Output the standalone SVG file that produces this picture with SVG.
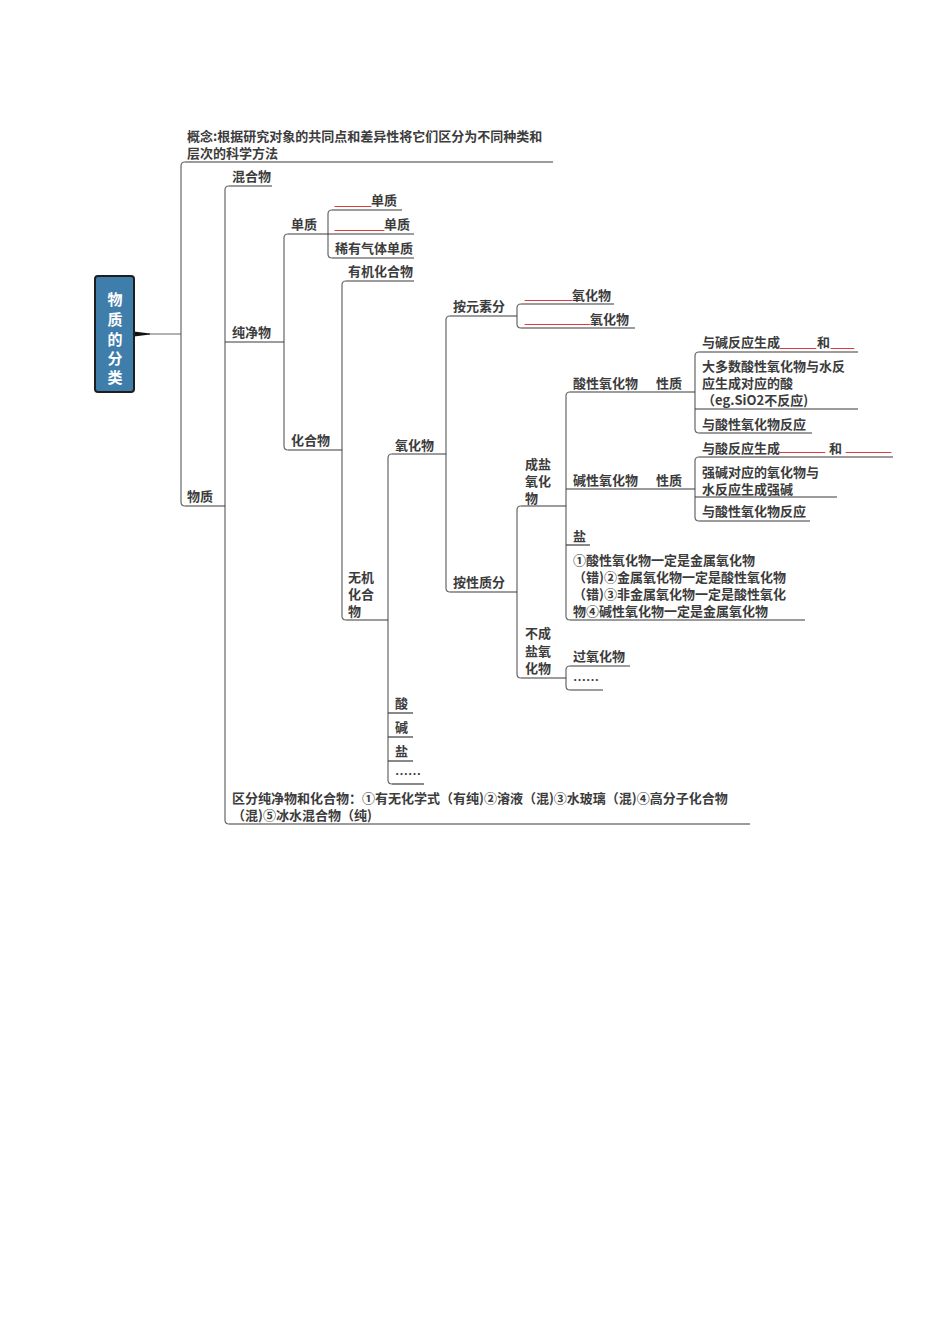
<svg xmlns="http://www.w3.org/2000/svg" width="950" height="1344" viewBox="0 0 950 1344">
<style>
.t{font-family:"Noto Sans CJK SC","Noto Sans",sans-serif;font-size:13px;font-weight:bold;fill:#3c3c3c}
.w{font-family:"Noto Sans CJK SC","Noto Sans",sans-serif;font-size:15px;font-weight:bold;fill:#ffffff;text-anchor:middle}
.b{font-family:"Liberation Sans",sans-serif;font-size:13px;font-weight:bold;fill:#e0393e;stroke:#e0393e;stroke-width:0.3}
.u{stroke:#3a3a3a;stroke-width:1.2;fill:none}
.c{stroke:#666666;stroke-width:1.2;fill:none}
</style>
<rect width="950" height="1344" fill="#ffffff"/>
<g id="connectors">
<path class="c" d="M185 162 Q181 162 181 166 L181 502 Q181 506 185 506"/>
<path class="c" d="M148 334 L181 334"/>
<path d="M134 331.5 L150 333.6 L150 334.6 L134 336.5 Z" fill="#111"/>
<path class="c" d="M229 186 Q225 186 225 190 L225 820 Q225 824 229 824"/>
<path class="c" d="M288 234 Q284 234 284 238 L284 446 Q284 450 288 450"/>
<path class="c" d="M332 210 Q328 210 328 214 L328 254 Q328 258 332 258"/>
<path class="c" d="M346 281 Q342 281 342 285 L342 616 Q342 620 346 620"/>
<path class="c" d="M392 454 Q388 454 388 458 L388 780 Q388 784 392 784"/>
<path class="c" d="M450 316 Q446 316 446 320 L446 588 Q446 592 450 592"/>
<path class="c" d="M521 304 Q517 304 517 308 L517 324 Q517 328 521 328"/>
<path class="c" d="M521 506 Q517 506 517 510 L517 674 Q517 678 521 678"/>
<path class="c" d="M570 392 Q566 392 566 396 L566 616 Q566 620 570 620"/>
<path class="c" d="M570 666 Q566 666 566 670 L566 686 Q566 690 570 690"/>
<path class="c" d="M699 352 Q695 352 695 356 L695 429 Q695 433 699 433"/>
<path class="c" d="M699 457 Q695 457 695 461 L695 517 Q695 521 699 521"/>
</g>
<g id="root">
<rect x="95" y="276" width="39" height="116" rx="3" fill="#3f7dab" stroke="#1e1e1e" stroke-width="2"/>
<text class="w" x="115" y="305"><tspan x="115" y="305">物</tspan><tspan x="115" y="325">质</tspan><tspan x="115" y="345">的</tspan><tspan x="115" y="364">分</tspan><tspan x="115" y="383">类</tspan></text>
</g>
<g id="n-gainian">
<text class="t" x="187" y="141">概念:根据研究对象的共同点和差异性将它们区分为不同种类和</text>
<text class="t" x="187" y="158">层次的科学方法</text>
<line class="u" x1="185" y1="162" x2="553" y2="162"/>
</g>
<g id="n-wuzhi">
<text class="t" x="187" y="501">物质</text>
<line class="u" x1="185" y1="506" x2="225" y2="506"/>
</g>
<g id="n-hunhewu">
<text class="t" x="232" y="181">混合物</text>
<line class="u" x1="229" y1="186" x2="272" y2="186"/>
</g>
<g id="n-chunjingwu">
<text class="t" x="232" y="337">纯净物</text>
<line class="u" x1="225" y1="342" x2="284" y2="342"/>
</g>
<g id="n-qufen">
<text class="t" x="232" y="803">区分纯净物和化合物：①有无化学式（有纯)②溶液（混)③水玻璃（混)④高分子化合物</text>
<text class="t" x="232" y="820">（混)⑤冰水混合物（纯)</text>
<line class="u" x1="229" y1="824" x2="750" y2="824"/>
</g>
<g id="n-danzhi">
<text class="t" x="291" y="229">单质</text>
<line class="u" x1="288" y1="234" x2="328" y2="234"/>
</g>
<g id="n-danzhi1">
<text class="b" x="335" y="205" textLength="36" lengthAdjust="spacingAndGlyphs">_____</text>
<text class="t" x="371" y="205">单质</text>
<line class="u" x1="332" y1="210" x2="402" y2="210"/>
</g>
<g id="n-danzhi2">
<text class="b" x="335" y="229" textLength="49" lengthAdjust="spacingAndGlyphs">_______</text>
<text class="t" x="384" y="229">单质</text>
<line class="u" x1="328" y1="234" x2="414" y2="234"/>
</g>
<g id="n-xiyou">
<text class="t" x="335" y="253">稀有气体单质</text>
<line class="u" x1="332" y1="258" x2="414" y2="258"/>
</g>
<g id="n-huahewu">
<text class="t" x="291" y="445">化合物</text>
<line class="u" x1="288" y1="450" x2="342" y2="450"/>
</g>
<g id="n-youji">
<text class="t" x="348" y="276">有机化合物</text>
<line class="u" x1="346" y1="281" x2="414" y2="281"/>
</g>
<g id="n-wuji">
<text class="t" x="348" y="582">无机</text>
<text class="t" x="348" y="599">化合</text>
<text class="t" x="348" y="616">物</text>
<line class="u" x1="346" y1="620" x2="388" y2="620"/>
</g>
<g id="n-yanghuawu">
<text class="t" x="395" y="450">氧化物</text>
<line class="u" x1="392" y1="454" x2="446" y2="454"/>
</g>
<g id="n-suan">
<text class="t" x="395" y="708">酸</text>
<line class="u" x1="388" y1="713" x2="413" y2="713"/>
</g>
<g id="n-jian">
<text class="t" x="395" y="732">碱</text>
<line class="u" x1="388" y1="737" x2="413" y2="737"/>
</g>
<g id="n-yan">
<text class="t" x="395" y="756">盐</text>
<line class="u" x1="388" y1="761" x2="413" y2="761"/>
</g>
<g id="n-etc1">
<text class="t" x="395" y="779">……</text>
<line class="u" x1="392" y1="784" x2="424" y2="784"/>
</g>
<g id="n-anyuansu">
<text class="t" x="453" y="311">按元素分</text>
<line class="u" x1="450" y1="316" x2="517" y2="316"/>
</g>
<g id="n-yh1">
<text class="b" x="525" y="299" textLength="47" lengthAdjust="spacingAndGlyphs">______</text>
<text class="t" x="572" y="300">氧化物</text>
<line class="u" x1="521" y1="304" x2="614" y2="304"/>
</g>
<g id="n-yh2">
<text class="b" x="525" y="323" textLength="65" lengthAdjust="spacingAndGlyphs">_________</text>
<text class="t" x="590" y="324">氧化物</text>
<line class="u" x1="521" y1="328" x2="635" y2="328"/>
</g>
<g id="n-anxingzhi">
<text class="t" x="453" y="587">按性质分</text>
<line class="u" x1="450" y1="592" x2="517" y2="592"/>
</g>
<g id="n-chengyan">
<text class="t" x="525" y="469">成盐</text>
<text class="t" x="525" y="486">氧化</text>
<text class="t" x="525" y="503">物</text>
<line class="u" x1="521" y1="506" x2="566" y2="506"/>
</g>
<g id="n-buchengyan">
<text class="t" x="525" y="638">不成</text>
<text class="t" x="525" y="656">盐氧</text>
<text class="t" x="525" y="673">化物</text>
<line class="u" x1="521" y1="678" x2="566" y2="678"/>
</g>
<g id="n-suanxing">
<text class="t" x="573" y="388">酸性氧化物</text>
<line class="u" x1="570" y1="392" x2="649" y2="392"/>
</g>
<g id="n-xingzhi1">
<text class="t" x="656" y="388">性质</text>
<line class="u" x1="649" y1="392" x2="695" y2="392"/>
</g>
<g id="n-s1">
<text class="t" x="702" y="347">与碱反应生成</text>
<text class="b" x="780" y="347" textLength="36" lengthAdjust="spacingAndGlyphs">_____</text>
<text class="t" x="817" y="347">和</text>
<text class="b" x="831" y="347" textLength="23" lengthAdjust="spacingAndGlyphs">___</text>
<line class="u" x1="699" y1="352" x2="858" y2="352"/>
</g>
<g id="n-s2">
<text class="t" x="702" y="371">大多数酸性氧化物与水反</text>
<text class="t" x="702" y="388">应生成对应的酸</text>
<text class="t" x="702" y="405">（eg.SiO2不反应)</text>
<line class="u" x1="695" y1="409" x2="858" y2="409"/>
</g>
<g id="n-s3">
<text class="t" x="702" y="429">与酸性氧化物反应</text>
<line class="u" x1="699" y1="433" x2="812" y2="433"/>
</g>
<g id="n-jianxing">
<text class="t" x="573" y="485">碱性氧化物</text>
<line class="u" x1="566" y1="489" x2="649" y2="489"/>
</g>
<g id="n-xingzhi2">
<text class="t" x="656" y="485">性质</text>
<line class="u" x1="649" y1="489" x2="695" y2="489"/>
</g>
<g id="n-j1">
<text class="t" x="702" y="453">与酸反应生成</text>
<text class="b" x="780" y="451" textLength="45" lengthAdjust="spacingAndGlyphs">______</text>
<text class="t" x="829" y="453">和</text>
<text class="b" x="846" y="451" textLength="45" lengthAdjust="spacingAndGlyphs">______</text>
<line class="u" x1="699" y1="457" x2="893" y2="457"/>
</g>
<g id="n-j2">
<text class="t" x="702" y="477">强碱对应的氧化物与</text>
<text class="t" x="702" y="494">水反应生成强碱</text>
<line class="u" x1="695" y1="497" x2="837" y2="497"/>
</g>
<g id="n-j3">
<text class="t" x="702" y="516">与酸性氧化物反应</text>
<line class="u" x1="699" y1="521" x2="810" y2="521"/>
</g>
<g id="n-yan2">
<text class="t" x="573" y="541">盐</text>
<line class="u" x1="566" y1="545" x2="590" y2="545"/>
</g>
<g id="n-notes">
<text class="t" x="573" y="565">①酸性氧化物一定是金属氧化物</text>
<text class="t" x="573" y="582">（错)②金属氧化物一定是酸性氧化物</text>
<text class="t" x="573" y="599">（错)③非金属氧化物一定是酸性氧化</text>
<text class="t" x="573" y="616">物④碱性氧化物一定是金属氧化物</text>
<line class="u" x1="570" y1="620" x2="805" y2="620"/>
</g>
<g id="n-guoyang">
<text class="t" x="573" y="661">过氧化物</text>
<line class="u" x1="570" y1="666" x2="630" y2="666"/>
</g>
<g id="n-etc2">
<text class="t" x="573" y="685">……</text>
<line class="u" x1="570" y1="690" x2="603" y2="690"/>
</g>
</svg>
